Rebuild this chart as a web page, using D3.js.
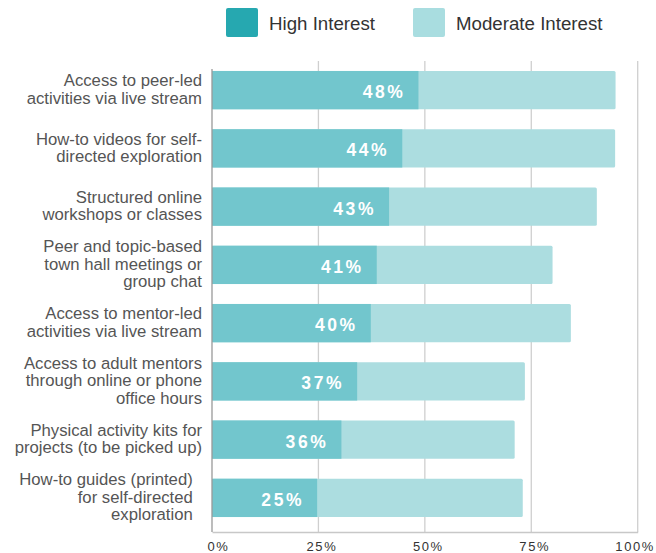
<!DOCTYPE html>
<html>
<head>
<meta charset="utf-8">
<script src="https://cdn.jsdelivr.net/npm/d3@7"></script>
<style>
  body { margin: 0; background: #fff; }
  svg { display: block; font-family: "Liberation Sans", Arial, Helvetica, sans-serif; }
</style>
</head>
<body>
<div id="chart"></div>
<script>
// chart data
var categories = [
    ["Access to peer-led", "activities via live stream"],
    ["How-to videos for self-", "directed exploration"],
    ["Structured online", "workshops or classes"],
    ["Peer and topic-based", "town hall meetings or", "group chat"],
    ["Access to mentor-led", "activities via live stream"],
    ["Access to adult mentors", "through online or phone", "office hours"],
    ["Physical activity kits for", "projects (to be picked up)"],
    ["How-to guides (printed)\u00a0\u00a0", "for self-directed\u00a0\u00a0", "exploration\u00a0\u00a0"]
];
var highInterest = [48.5, 44.7, 41.6, 38.7, 37.3, 34.1, 30.4, 24.7];
var moderateInterest = [46.3, 50.0, 48.8, 41.3, 47.0, 39.4, 40.7, 48.3];
var highLabels = ["48%", "44%", "43%", "41%", "40%", "37%", "36%", "25%"];
var tickValues = [0, 25, 50, 75, 100];
var seriesNames = ["High Interest", "Moderate Interest"];

var width = 656, height = 553;
var colHigh = "#72c6cd", colMod = "#acdde0";
var legendCol = ["#26a8b0", "#a9dde0"];

var svg = d3.select("#chart").append("svg")
    .attr("width", width)
    .attr("height", height);

var x = d3.scaleLinear().domain([0, 100]).range([212, 637.7]);
var y = d3.scaleBand()
    .domain(d3.range(categories.length))
    .range([61, 527])
    .paddingInner(0.342)
    .paddingOuter(0.171);

// gridlines
svg.append("g").selectAll("line")
    .data(tickValues.slice(1))
    .enter().append("line")
    .attr("x1", function(d) { return x(d); })
    .attr("x2", function(d) { return x(d); })
    .attr("y1", 61)
    .attr("y2", 532)
    .attr("stroke", "#cfcfcf")
    .attr("stroke-width", 1.3);

// bottom axis
var xAxis = d3.axisBottom(x)
    .tickValues(tickValues)
    .tickSize(0)
    .tickFormat(function(d) { return d + "%"; });
var gx = svg.append("g")
    .attr("transform", "translate(0,532)")
    .call(xAxis);
gx.select(".domain").attr("stroke", "#c8c8c8").attr("stroke-width", 1.3);
gx.selectAll("text")
    .attr("y", 10)
    .attr("dy", "0.71em")
    .attr("fill", "#333")
    .style("font-size", "13px")
    .style("letter-spacing", "1.6px")
    .attr("dx", function(d) { return d === 0 ? 6 : (d === 100 ? -3 : 3); });

// bars
var rows = svg.append("g").selectAll("g")
    .data(categories)
    .enter().append("g");

rows.append("rect")
    .attr("x", x(0))
    .attr("y", function(d, i) { return y(i); })
    .attr("width", function(d, i) { return x(highInterest[i] + moderateInterest[i]) - x(0); })
    .attr("height", y.bandwidth())
    .attr("rx", 1.5)
    .attr("fill", colMod);

rows.append("rect")
    .attr("x", x(0))
    .attr("y", function(d, i) { return y(i); })
    .attr("width", function(d, i) { return x(highInterest[i]) - x(0); })
    .attr("height", y.bandwidth())
    .attr("fill", colHigh);

rows.append("text")
    .attr("x", function(d, i) { return x(highInterest[i]) - 13; })
    .attr("y", function(d, i) { return y(i) + y.bandwidth() / 2 + 8; })
    .attr("text-anchor", "end")
    .attr("fill", "#fff")
    .style("font-size", "17.5px")
    .style("font-weight", "bold")
    .style("letter-spacing", "2.6px")
    .text(function(d, i) { return highLabels[i]; });

// category labels
var lh = 17.5;
rows.append("text")
    .attr("text-anchor", "end")
    .attr("fill", "#555")
    .style("font-size", "16.7px")
    .each(function(d, i) {
        var t = d3.select(this);
        var cy = y(i) + y.bandwidth() / 2;
        d.forEach(function(line, k) {
            t.append("tspan")
                .attr("x", 202)
                .attr("y", cy + (k - (d.length - 1) / 2) * lh + 5)
                .text(line);
        });
    });

// left axis line
svg.append("line")
    .attr("x1", 212).attr("x2", 212)
    .attr("y1", 69).attr("y2", 532)
    .attr("stroke", "#999")
    .attr("stroke-width", 1.3);

// legend
var legend = svg.append("g").selectAll("g")
    .data(seriesNames)
    .enter().append("g")
    .attr("transform", function(d, i) { return "translate(" + (226 + i * 187) + ",8)"; });

legend.append("rect")
    .attr("width", 32)
    .attr("height", 29)
    .attr("rx", 2)
    .attr("fill", function(d, i) { return legendCol[i]; });

legend.append("text")
    .attr("x", 43)
    .attr("y", 22)
    .attr("fill", "#333")
    .style("font-size", "18.7px")
    .text(function(d) { return d; });
</script>
</body>
</html>
